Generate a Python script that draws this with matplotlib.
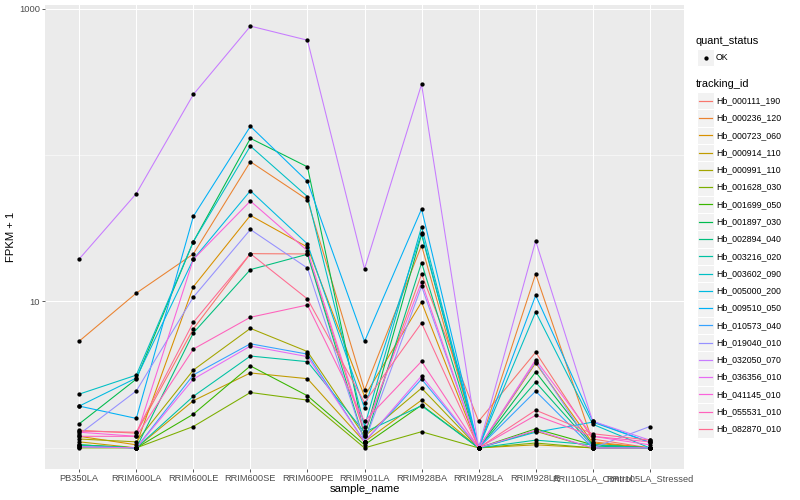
import numpy as np
import matplotlib
matplotlib.use("Agg")
import matplotlib.pyplot as plt
from matplotlib.patches import Rectangle

# sample order on the x axis
samples = ["PB350LA", "RRIM600LA", "RRIM600LE", "RRIM600SE", "RRIM600PE",
           "RRIM901LA", "RRIM928BA", "RRIM928LA", "RRIM928LE",
           "RRII105LA_Control", "RRII105LA_Stressed"]

tracking_ids = ["Hb_000111_190", "Hb_000236_120", "Hb_000723_060", "Hb_000914_110",
                "Hb_000991_110", "Hb_001628_030", "Hb_001699_050", "Hb_001897_030",
                "Hb_002894_040", "Hb_003216_020", "Hb_003602_090", "Hb_005000_200",
                "Hb_009510_050", "Hb_010573_040", "Hb_019040_010", "Hb_032050_070",
                "Hb_036356_010", "Hb_041145_010", "Hb_055531_010", "Hb_082870_010"]

# FPKM + 1, one list per gene (same order as samples)
hb_000111_190 = [1.32, 1.26, 6.5, 21.2, 21.1, 1.25, 15.4, 1.52, 4.5, 1.15, 1.0]
hb_000236_120 = [5.36, 11.4, 21.1, 90, 49.5, 2.48, 24.1, 1.0, 15.4, 1.1, 1.0]
hb_000723_060 = [1.2, 1.05, 12.6, 38.7, 23.5, 2.25, 9.9, 1.0, 3.8, 1.08, 1.0]
hb_000914_110 = [1.1, 1.0, 2.1, 3.25, 2.97, 1.1, 2.12, 1.0, 1.05, 1.0, 1.0]
hb_000991_110 = [1.15, 1.1, 3.4, 6.55, 4.55, 1.2, 2.56, 1.0, 1.3, 1.0, 1.0]
hb_001628_030 = [1.0, 1.0, 1.4, 2.39, 2.12, 1.0, 1.29, 1.0, 1.08, 1.0, 1.0]
hb_001699_050 = [1.05, 1.0, 1.7, 3.63, 2.27, 1.05, 1.96, 1.0, 1.35, 1.05, 1.0]
hb_001897_030 = [1.46, 2.95, 25.6, 130, 83, 1.2, 28.7, 1.0, 3.3, 1.05, 1.0]
hb_002894_040 = [1.05, 1.0, 6.1, 16.5, 21.0, 1.1, 18.4, 1.0, 2.81, 1.03, 1.0]
hb_003216_020 = [1.04, 1.0, 2.25, 4.24, 3.88, 1.28, 1.94, 1.0, 1.13, 1.05, 1.0]
hb_003602_090 = [2.33, 3.14, 25.6, 115, 52, 1.4, 32.4, 1.0, 8.48, 1.45, 1.0]
hb_005000_200 = [1.93, 3.0, 19.4, 57, 24.7, 1.87, 29.5, 1.0, 1.28, 1.5, 1.09]
hb_009510_050 = [1.93, 1.59, 38.1, 157, 66, 5.33, 42.8, 1.0, 11.0, 1.52, 1.09]
hb_010573_040 = [1.02, 1.0, 3.15, 5.14, 4.37, 1.1, 2.95, 1.0, 2.44, 1.0, 1.0]
hb_019040_010 = [1.24, 2.45, 10.7, 31.0, 16.9, 1.1, 12.7, 1.0, 3.88, 1.0, 1.40]
hb_032050_070 = [19.5, 54.5, 259, 759, 608, 16.7, 304, 1.0, 25.9, 1.52, 1.13]
hb_036356_010 = [1.02, 1.0, 2.95, 4.96, 4.2, 1.1, 3.1, 1.0, 1.32, 1.0, 1.0]
hb_041145_010 = [1.28, 1.2, 19.4, 48.5, 22.2, 1.3, 13.6, 1.0, 4.0, 1.2, 1.05]
hb_055531_010 = [1.2, 1.2, 4.73, 7.8, 9.46, 1.52, 3.9, 1.0, 1.67, 1.2, 1.1]
hb_082870_010 = [1.30, 1.28, 7.2, 21.2, 10.4, 2.04, 7.13, 1.0, 1.81, 1.25, 1.13]

fpkm = [hb_000111_190, hb_000236_120, hb_000723_060, hb_000914_110, hb_000991_110,
        hb_001628_030, hb_001699_050, hb_001897_030, hb_002894_040, hb_003216_020,
        hb_003602_090, hb_005000_200, hb_009510_050, hb_010573_040, hb_019040_010,
        hb_032050_070, hb_036356_010, hb_041145_010, hb_055531_010, hb_082870_010]

# ggplot default hue palette, 20 levels
colours = ["#F8766D", "#EA8331", "#D89000", "#C09B00", "#A3A500", "#7CAE00", "#39B600",
           "#00BB4E", "#00BF7D", "#00C1A3", "#00BFC4", "#00BAE0", "#00B0F6", "#35A2FF",
           "#9590FF", "#C77CFF", "#E76BF3", "#FA62DB", "#FF62BC", "#FF6C91"]

plt.rcParams['font.family'] = ['Liberation Sans', 'DejaVu Sans']

W, H = 800, 500
fig = plt.figure(figsize=(W / 72, H / 72), dpi=72)
ax = fig.add_axes([45 / W, 1 - 469 / H, (684 - 45) / W, (469 - 5) / H])
ax.set_facecolor('#EBEBEB')

x = np.arange(len(samples))
for vals, col in zip(fpkm, colours):
    ax.plot(x, vals, color=col, lw=1.07, zorder=2)
for vals in fpkm:
    ax.plot(x, vals, ls='none', marker='o', ms=4.3, mew=0, color='black', zorder=3)

ax.set_yscale('log')
allv = np.log10(np.concatenate([np.array(v, float) for v in fpkm]))
lo, hi = allv.min(), allv.max()
pad = 0.05 * (hi - lo)
ax.set_ylim(10 ** (lo - pad), 10 ** (hi + pad))
ax.set_xlim(-0.6, len(samples) - 0.4)

ax.set_xticks(x)
ax.set_xticklabels(samples)
ax.set_yticks([10, 1000])
ax.set_yticklabels(['10', '1000'])
ax.set_yticks([1, 100], minor=True)
ax.yaxis.set_minor_formatter(matplotlib.ticker.NullFormatter())
ax.xaxis.set_minor_locator(matplotlib.ticker.NullLocator())

ax.grid(which='major', color='white', lw=1.07)
ax.grid(which='minor', axis='y', color='white', lw=0.53)
ax.set_axisbelow(True)
for s in ax.spines.values():
    s.set_visible(False)
ax.tick_params(which='major', length=2.75, width=0.8, color='#333333',
               labelcolor='#4D4D4D', labelsize=9.2, pad=2.0)
ax.tick_params(which='minor', length=0)

ax.set_xlabel('sample_name', fontsize=11.3, color='black', labelpad=1.5)
ax.set_ylabel('FPKM + 1', fontsize=11.3, color='black', labelpad=3)

# legends drawn in pixel coordinates on an overlay
leg = fig.add_axes([0, 0, 1, 1], facecolor='none')
leg.set_xlim(0, W)
leg.set_ylim(H, 0)
leg.axis('off')

leg.text(696, 41, 'quant_status', fontsize=11, va='center', ha='left')
leg.add_patch(Rectangle((697, 49), 17, 17, facecolor='#F2F2F2', edgecolor='white', lw=1))
leg.plot([705.5], [57.5], marker='o', ms=4.3, mew=0, color='black')
leg.text(716, 57.5, 'OK', fontsize=8.8, va='center', ha='left')

leg.text(696, 84, 'tracking_id', fontsize=11, va='center', ha='left')
step = 17.28
for i, (name, col) in enumerate(zip(tracking_ids, colours)):
    yc = 100.7 + i * step
    leg.add_patch(Rectangle((697, yc - step / 2), 17, step, facecolor='#F2F2F2',
                            edgecolor='white', lw=1))
    leg.plot([699, 712], [yc, yc], color=col, lw=1.2)
    leg.text(716, yc, name, fontsize=8.8, va='center', ha='left')

fig.savefig('out.png', dpi=72)
